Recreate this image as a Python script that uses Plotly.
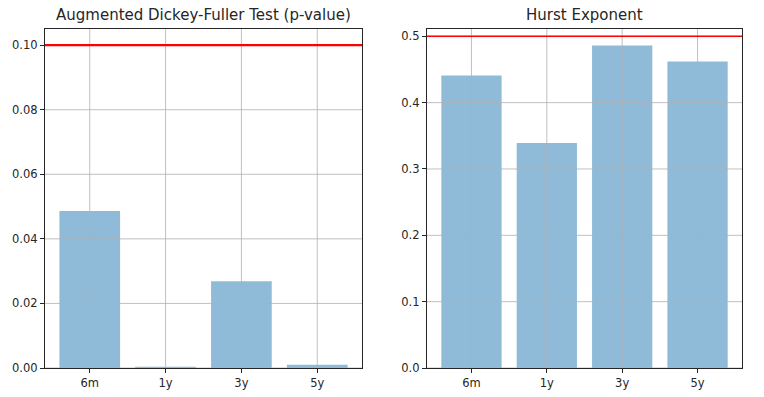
import plotly.graph_objects as go

categories = ["6m", "1y", "3y", "5y"]
adf_pvalues = [0.0486, 0.0004, 0.0269, 0.0010]
hurst_values = [0.441, 0.339, 0.486, 0.462]
adf_threshold = 0.10
hurst_threshold = 0.5
adf_yticks = [0.00, 0.02, 0.04, 0.06, 0.08, 0.10]
adf_yticktext = ["0.00", "0.02", "0.04", "0.06", "0.08", "0.10"]
hurst_yticks = [0.0, 0.1, 0.2, 0.3, 0.4, 0.5]
hurst_yticktext = ["0.0", "0.1", "0.2", "0.3", "0.4", "0.5"]
titles = ["Augmented Dickey-Fuller Test (p-value)", "Hurst Exponent"]

W, H = 764, 397
BAR_COLOR = "rgba(31,119,180,0.5)"
GRID = "#b0b0b0"
SPINE = "#262626"
FONT = "DejaVu Sans"

x1 = [45 / W, 362 / W]
x2 = [427 / W, 742 / W]
ydom = [1 - 368 / H, 1 - 29 / H]

fig = go.Figure()
fig.add_trace(go.Bar(x=categories, y=adf_pvalues, marker_color=BAR_COLOR,
                     marker_line_width=0, xaxis="x", yaxis="y", showlegend=False))
fig.add_trace(go.Bar(x=categories, y=hurst_values, marker_color=BAR_COLOR,
                     marker_line_width=0, xaxis="x2", yaxis="y2", showlegend=False))

xr = [-0.59, 3.59]
common_x = dict(range=xr, showgrid=False, zeroline=False, showline=True, mirror=True,
                linecolor=SPINE, linewidth=1.2, ticks="outside", ticklen=4,
                tickcolor=SPINE, tickwidth=1, tickfont=dict(family=FONT, size=11.5, color=SPINE),
                fixedrange=True, automargin=False)
common_y = dict(showgrid=False, zeroline=False, showline=True, mirror=True,
                linecolor=SPINE, linewidth=1.2, ticks="outside", ticklen=4,
                tickcolor=SPINE, tickwidth=1, tickfont=dict(family=FONT, size=11.5, color=SPINE),
                fixedrange=True, automargin=False)

fig.update_layout(
    width=W, height=H, margin=dict(l=0, r=0, t=0, b=0, autoexpand=False),
    paper_bgcolor="white", plot_bgcolor="white",
    bargap=0.2,
    xaxis=dict(domain=x1, anchor="y", **common_x),
    xaxis2=dict(domain=x2, anchor="y2", **common_x),
    yaxis=dict(domain=ydom, anchor="x", range=[0, 0.105], tickvals=adf_yticks,
               ticktext=adf_yticktext, **common_y),
    yaxis2=dict(domain=ydom, anchor="x2", range=[0, 0.511], tickvals=hurst_yticks,
                ticktext=hurst_yticktext, **common_y),
)

shapes = []
# gridlines drawn above bars (as in the reference)
for xa, ya, yt in [("x", "y", adf_yticks), ("x2", "y2", hurst_yticks)]:
    for c in categories:
        shapes.append(dict(type="line", xref=xa, yref=ya + " domain", x0=c, x1=c, y0=0, y1=1,
                           line=dict(color=GRID, width=0.8), layer="above"))
    for v in yt:
        shapes.append(dict(type="line", xref=xa + " domain", yref=ya, x0=0, x1=1, y0=v, y1=v,
                           line=dict(color=GRID, width=0.8), layer="above"))
shapes.append(dict(type="line", xref="x domain", yref="y", x0=0, x1=1,
                   y0=adf_threshold, y1=adf_threshold, line=dict(color="red", width=2.2), layer="above"))
shapes.append(dict(type="line", xref="x2 domain", yref="y2", x0=0, x1=1,
                   y0=hurst_threshold, y1=hurst_threshold, line=dict(color="red", width=1.6), layer="above"))
fig.update_layout(shapes=shapes)

for dom, t in [(x1, titles[0]), (x2, titles[1])]:
    fig.add_annotation(text=t, xref="paper", yref="paper", x=(dom[0] + dom[1]) / 2,
                       y=1 - 15 / H, xanchor="center", yanchor="middle", showarrow=False,
                       font=dict(family=FONT, size=15, color=SPINE))

fig.write_html("out.html", config={"displayModeBar": False},
               post_script="document.body.style.margin='0';")
